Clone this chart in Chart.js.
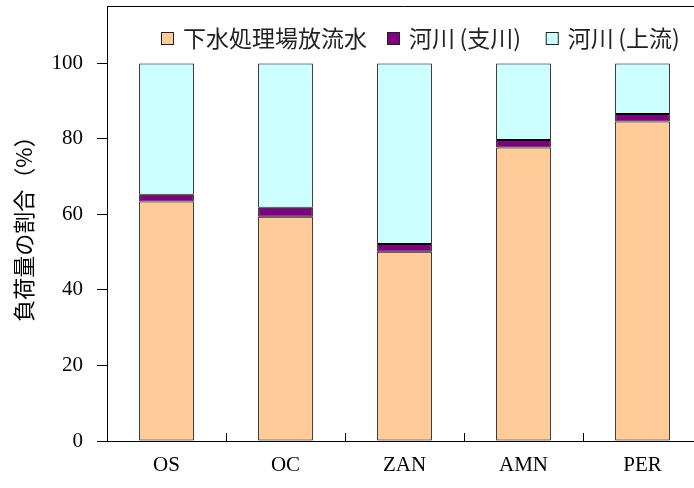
<!DOCTYPE html>
<html>
<head>
<meta charset="utf-8">
<script src="https://cdn.jsdelivr.net/npm/chart.js@4"></script>
<style>
  html, body { margin: 0; padding: 0; background: #fff; overflow: hidden; }
  #wrap { width: 694px; height: 488px; overflow: hidden; }
</style>
</head>
<body>
<div id="wrap"><canvas id="loadChart" width="704" height="488"></canvas></div>
<script>
const sites = ['OS', 'OC', 'ZAN', 'AMN', 'PER'];

// share of load (%) per source
const sewage = [63.4, 59.4, 50.1, 77.7, 84.6];
const tributary = [1.8, 2.4, 2.1, 2.0, 2.0];
const upstream = [34.8, 38.2, 47.8, 20.3, 13.4];

const yTicks = [0, 20, 40, 60, 80, 100];

const serif = 'Liberation Serif';
const jp = 'Noto Sans CJK JP';

// frame on top, inner category ticks, legend inside the plot
const framePlugin = {
  id: 'frame',
  afterDraw(chart) {
    const { ctx, chartArea: a, scales: { x } } = chart;
    ctx.save();
    ctx.strokeStyle = '#000';
    ctx.lineWidth = 1;
    ctx.beginPath();
    ctx.moveTo(a.left, a.top + 0.5);
    ctx.lineTo(a.right, a.top + 0.5);
    ctx.moveTo(a.right - 0.5, a.top);
    ctx.lineTo(a.right - 0.5, a.bottom);
    const half = (x.getPixelForValue(1) - x.getPixelForValue(0)) / 2;
    for (let i = 0; i < sites.length - 1; i++) {
      const px = Math.round(x.getPixelForValue(i) + half) + 0.5;
      ctx.moveTo(px, a.bottom);
      ctx.lineTo(px, a.bottom - 8);
    }
    ctx.stroke();

    // legend
    ctx.font = '23px "' + jp + '"';
    ctx.textBaseline = 'middle';
    let lx = 161;
    const ly = 38;
    chart.data.datasets.forEach(ds => {
      const text = ds.label.replace('(', '\u2009(').replace(')', ')\u2009');
      ctx.fillStyle = ds.backgroundColor;
      ctx.fillRect(lx, ly - 6, 13, 13);
      ctx.strokeStyle = '#222';
      ctx.strokeRect(lx + 0.5, ly - 5.5, 12, 12);
      ctx.fillStyle = '#222';
      ctx.fillText(text, lx + 22, ly);
      lx += 22 + ctx.measureText(text).width + 20;
    });
    ctx.restore();
  }
};

new Chart(document.getElementById('loadChart'), {
  type: 'bar',
  data: {
    labels: sites,
    datasets: [
      { label: '下水処理場放流水', data: sewage, backgroundColor: '#FFCC99' },
      { label: '河川(支川)', data: tributary, backgroundColor: '#800080' },
      { label: '河川(上流)', data: upstream, backgroundColor: '#CCFFFF' }
    ].map(d => Object.assign(d, {
      borderColor: '#000',
      borderWidth: 1,
      borderSkipped: false,
      categoryPercentage: 1,
      barPercentage: 0.46
    }))
  },
  options: {
    responsive: false,
    animation: false,
    devicePixelRatio: 1,
    layout: { padding: { top: 6, right: 2, left: 0, bottom: 0 } },
    plugins: {
      legend: { display: false },
      tooltip: { enabled: false }
    },
    scales: {
      x: {
        stacked: true,
        grid: { display: false, drawTicks: false },
        border: { color: '#000', width: 1 },
        ticks: { color: '#000', font: { family: serif, size: 21 }, padding: 12 },
        afterFit(scale) {
          scale.height = 47;
          scale.paddingLeft = 0;
          scale.paddingRight = 0;
        }
      },
      y: {
        stacked: true,
        min: 0,
        max: 115.2,
        grid: { drawOnChartArea: false, drawTicks: true, tickLength: 10, color: '#000' },
        border: { color: '#000', width: 1 },
        ticks: { color: '#000', font: { family: serif, size: 21 }, padding: 14 },
        afterBuildTicks(scale) { scale.ticks = yTicks.map(v => ({ value: v })); },
        afterFit(scale) {
          scale.width = 107;
          scale.paddingTop = 0;
          scale.paddingBottom = 0;
        },
        title: {
          display: true,
          text: '負荷量の割合（%）',
          color: '#000',
          font: { family: jp, size: 22 },
          padding: { top: 10, bottom: 0 }
        }
      }
    }
  },
  plugins: [framePlugin]
});
</script>
</body>
</html>
